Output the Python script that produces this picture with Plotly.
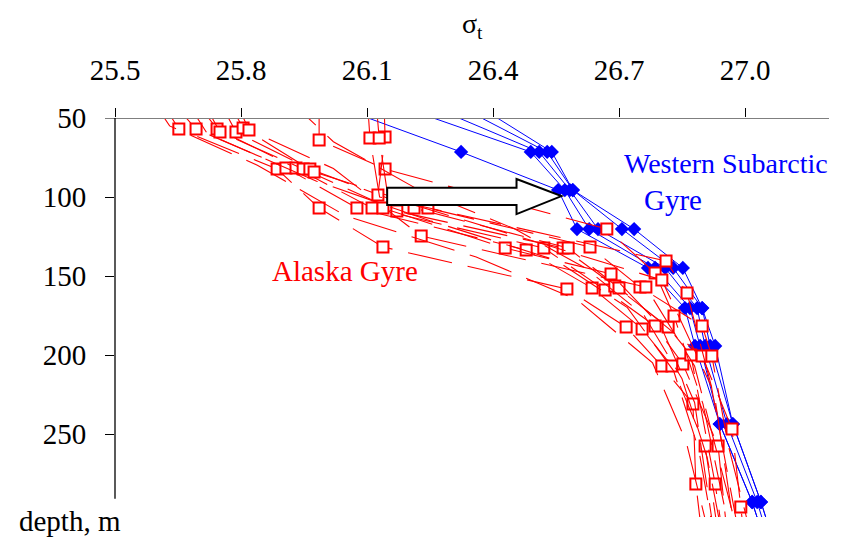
import plotly.graph_objects as go

# ---------------- data ----------------
# x-axis ticks (sigma-t) and y-axis ticks (depth, m)
sigma_ticks = [25.5, 25.8, 26.1, 26.4, 26.7, 27.0]
depth_ticks = [50, 100, 150, 200, 250]

# Western Subarctic Gyre profiles (blue): common depth levels
wsg_depth = [40, 71.5, 95.6, 120.3, 144.9, 170.3, 194.3, 243.7, 293, 320]
wsg_sigma_1 = [26.00, 26.324, 26.555, 26.600, 26.769, 26.857, 26.881, 26.940, 27.017, 27.05]
wsg_sigma_2 = [26.15, 26.490, 26.571, 26.629, 26.786, 26.869, 26.893, 26.940, 27.017, 27.05]
wsg_sigma_3 = [26.23, 26.510, 26.583, 26.650, 26.810, 26.886, 26.905, 26.957, 27.029, 27.06]
wsg_sigma_4 = [26.30, 26.529, 26.590, 26.707, 26.829, 26.898, 26.917, 26.971, 27.038, 27.07]
wsg_sigma_5 = [26.35, 26.540, 26.590, 26.736, 26.852, 26.898, 26.929, 26.971, 27.038, 27.07]
wsg_sigma = [wsg_sigma_1, wsg_sigma_2, wsg_sigma_3, wsg_sigma_4, wsg_sigma_5]

# Alaska Gyre profiles (red): depth, sigma-t, and whether a square is drawn there
ag_depth = [
    [35, 57, 82.3, 107, 131.6, 158.2, 182.3, 207, 231, 281.6, 320],
    [35, 57, 81.6, 107, 133.5, 157.6, 183.5, 207, 257.6, 320],
    [35, 57, 81.6, 107, 132.3, 158.9, 181.6, 205.7, 257.6, 320],
    [35, 58.9, 82.3, 108.9, 132.3, 156.3, 182.3, 200, 281.6, 320],
    [35, 58.9, 82.3, 107, 132.3, 157.6, 200.6, 246.8, 296.2, 320],
    [35, 56.3, 84.2, 107, 131.6, 157, 181.6, 200.6, 257, 320],
    [35, 57.6, 82, 124.7, 157, 207, 320],
    [35, 63.9, 82.3, 120.3, 148.1, 175.3, 231, 320],
    [35, 62, 98.7, 107, 132.3, 148.7, 182, 230, 320],
    [35, 62.7, 100, 140.5, 160.8, 230, 320],
    [35, 62.7, 100, 152.5, 220, 320],
    [35, 60, 90, 115, 140, 170, 210, 260, 320],
    [35, 65, 95, 120, 145, 175, 215, 265, 320],
    [35, 55, 80, 112, 138, 165, 205, 255, 320],
]
ag_sigma = [
    [25.60, 25.652, 25.886, 25.986, 26.138, 26.576, 26.717, 26.802, 26.876, 26.883, 26.90],
    [25.62, 25.693, 25.907, 26.076, 26.479, 26.636, 26.755, 26.826, 26.905, 26.94],
    [25.68, 25.743, 25.931, 26.112, 26.521, 26.667, 26.786, 26.852, 26.936, 26.96],
    [25.70, 25.750, 25.948, 26.171, 26.567, 26.690, 26.817, 26.871, 26.929, 26.95],
    [25.74, 25.788, 25.964, 26.212, 26.579, 26.700, 26.898, 26.969, 26.990, 27.00],
    [25.76, 25.805, 25.974, 26.245, 26.631, 26.750, 26.898, 26.921, 26.960, 27.02],
    [25.78, 25.819, 26.02, 26.229, 26.764, 26.880, 26.99],
    [25.986, 25.986, 26.143, 26.671, 26.786, 26.831, 26.900, 26.97],
    [26.14, 26.143, 26.126, 26.138, 26.429, 26.681, 26.800, 26.880, 26.93],
    [26.10, 26.107, 26.130, 26.812, 26.862, 26.930, 26.98],
    [26.12, 26.129, 26.150, 26.802, 26.920, 26.99],
    [25.66, 25.72, 25.98, 26.25, 26.55, 26.72, 26.83, 26.89, 26.93],
    [25.90, 26.02, 26.22, 26.45, 26.62, 26.76, 26.85, 26.91, 26.95],
    [25.58, 25.63, 25.84, 26.05, 26.36, 26.60, 26.78, 26.86, 26.92],
]
ag_square = [
    [0, 1, 1, 1, 1, 1, 1, 1, 1, 1, 0],
    [0, 1, 1, 1, 1, 1, 1, 1, 1, 0],
    [0, 1, 1, 1, 1, 1, 1, 1, 1, 0],
    [0, 1, 1, 1, 1, 1, 1, 1, 1, 0],
    [0, 1, 1, 1, 1, 1, 1, 1, 1, 0],
    [0, 1, 1, 1, 1, 1, 1, 1, 0, 0],
    [0, 1, 0, 1, 1, 0, 0],
    [0, 1, 1, 1, 1, 1, 0, 0],
    [0, 1, 1, 1, 1, 1, 0, 0, 0],
    [0, 1, 0, 1, 1, 0, 0],
    [0, 1, 0, 1, 0, 0],
    [0, 0, 0, 0, 0, 0, 0, 0, 0],
    [0, 0, 0, 0, 0, 0, 0, 0, 0],
    [0, 0, 0, 0, 0, 0, 0, 0, 0],
]

# block arrow outline (sigma-t, depth)
arrow_sigma = [26.148, 26.456, 26.456, 26.563, 26.456, 26.456, 26.148]
arrow_depth = [94.1, 94.1, 88.6, 99.4, 110.8, 105.1, 105.1]

# ---------------- figure ----------------
SERIF = "Liberation Serif"
fig = go.Figure()

for s in wsg_sigma:
    fig.add_trace(go.Scatter(
        x=s, y=wsg_depth, mode="lines+markers",
        line=dict(color="#0000FF", width=1),
        marker=dict(symbol="diamond", size=11, color="#0000FF"),
        showlegend=False, hoverinfo="skip"))

for d, s, m in zip(ag_depth, ag_sigma, ag_square):
    fig.add_trace(go.Scatter(
        x=s, y=d, mode="lines+markers",
        line=dict(color="#FF0000", width=1.1, dash="45px,16px"),
        marker=dict(symbol="square", size=11, color="white",
                    opacity=[float(v) for v in m],
                    line=dict(color="#FF0000", width=2)),
        showlegend=False, hoverinfo="skip"))

path = "M " + " L ".join(f"{x},{y}" for x, y in zip(arrow_sigma, arrow_depth)) + " Z"

fig.update_layout(
    width=837, height=530,
    margin=dict(l=107, r=16, t=110, b=21),
    paper_bgcolor="white", plot_bgcolor="white",
    font=dict(family=SERIF, color="black"),
    xaxis=dict(range=[25.5, 27.2], side="top", tickvals=sigma_ticks,
               ticktext=[f"{v:.1f}" for v in sigma_ticks],
               ticks="outside", ticklen=9, tickwidth=1, tickcolor="black",
               ticklabelstandoff=16,
               showgrid=False, zeroline=False, showline=False,
               tickfont=dict(family=SERIF, size=29, color="black")),
    yaxis=dict(range=[302.5, 50], tickvals=depth_ticks,
               ticks="outside", ticklen=9, tickwidth=1, tickcolor="black",
               ticklabelstandoff=13,
               showgrid=False, zeroline=False, showline=False,
               tickfont=dict(family=SERIF, size=29, color="black")),
    shapes=[
        dict(type="line", xref="paper", yref="y", x0=-0.014, x1=1, y0=50, y1=50,
             line=dict(color="#7f7f7f", width=2)),
        dict(type="line", xref="paper", yref="y", x0=0, x1=0, y0=50, y1=291,
             line=dict(color="black", width=1.3)),
        dict(type="path", xref="x", yref="y", path=path, layer="above",
             fillcolor="white", line=dict(color="black", width=2)),
    ],
    annotations=[
        dict(text="σ<sub>t</sub>", xref="paper", yref="paper", x=0.5, y=1.232,
             xanchor="center", yanchor="middle", showarrow=False,
             font=dict(family=SERIF, size=28, color="black")),
        dict(text="depth, m", xref="paper", yref="paper", x=-0.063, y=-0.01,
             xanchor="center", yanchor="middle", showarrow=False,
             font=dict(family=SERIF, size=29, color="black")),
        dict(text="Alaska Gyre", xref="paper", yref="paper", x=0.322, y=0.6165,
             xanchor="center", yanchor="middle", showarrow=False,
             font=dict(family=SERIF, size=29, color="#FF0000")),
        dict(text="Western Subarctic", xref="paper", yref="paper", x=0.710, y=0.887,
             xanchor="left", yanchor="middle", showarrow=False,
             font=dict(family=SERIF, size=28, color="#0000FF")),
        dict(text="Gyre", xref="paper", yref="paper", x=0.7815, y=0.7945,
             xanchor="center", yanchor="middle", showarrow=False,
             font=dict(family=SERIF, size=29, color="#0000FF")),
    ],
)

fig.write_html("out.html")
